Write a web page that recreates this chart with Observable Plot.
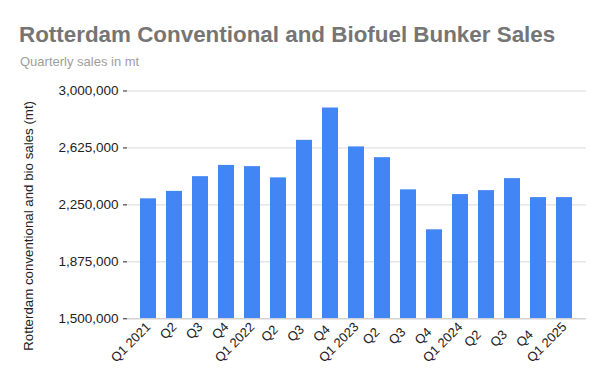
<!DOCTYPE html>
<html>
<head>
<meta charset="utf-8">
<script src="https://cdn.jsdelivr.net/npm/d3@7"></script>
<script src="https://cdn.jsdelivr.net/npm/@observablehq/plot@0.6"></script>
<style>
  html, body { margin: 0; padding: 0; background: #fff; }
  #wrap { position: relative; width: 605px; height: 387px; font-family: "Liberation Sans", Arial, sans-serif; }
  #title { position: absolute; left: 19px; top: 21px; line-height: 28px; font-size: 22.4px; font-weight: bold; color: #757575; white-space: nowrap; }
  #subtitle { position: absolute; left: 20px; top: 54px; line-height: 16px; font-size: 13px; color: #9e9e9e; white-space: nowrap; }
  #chart { position: absolute; left: 0; top: 75px; }
</style>
</head>
<body>
<div id="wrap">
  <div id="title">Rotterdam Conventional and Biofuel Bunker Sales</div>
  <div id="subtitle">Quarterly sales in mt</div>
  <div id="chart"></div>
</div>
<script>
const quarters = ["Q1 2021","Q2","Q3","Q4","Q1 2022","Q2 ","Q3 ","Q4 ","Q1 2023","Q2  ","Q3  ","Q4  ","Q1 2024","Q2   ","Q3   ","Q4   ","Q1 2025"];
const sales = [2290000, 2339000, 2436000, 2510000, 2502000, 2428000, 2675000, 2888000, 2632000, 2561000, 2349000, 2086000, 2318000, 2344000, 2423000, 2298000, 2298000];
const yTicks = [1500000, 1875000, 2250000, 2625000, 3000000];
const yLabel = "Rotterdam conventional and bio sales (mt)";

const data = quarters.map((q, i) => ({q, v: sales[i]}));

const chart = Plot.plot({
  width: 605,
  height: 312,
  marginTop: 15.5,
  marginBottom: 68.7,
  marginLeft: 127,
  marginRight: 19,
  style: {fontFamily: '"Liberation Sans", Arial, sans-serif', fontSize: "13px", color: "#222", overflow: "visible"},
  x: {domain: quarters, padding: 0.37, label: null},
  y: {domain: [1500000, 3000000], label: null},
  marks: [
    Plot.gridY(yTicks, {stroke: "#d9d9d9", strokeOpacity: 1}),
    Plot.barY(data, {x: "q", y1: 1500000, y2: "v", fill: "#4285f4", clip: true}),
    Plot.ruleY([1500000], {stroke: "#cccccc"}),
    Plot.ruleX([0], {frameAnchor: "left", stroke: "#333", strokeWidth: 1}),
    Plot.axisY({ticks: yTicks, tickFormat: d3.format(","), tickSize: 4, tickPadding: 5, label: null, fontSize: 13.5}),
    Plot.axisX({tickRotate: -45, tickSize: 0, tickPadding: 6, label: null, fontSize: 13}),
    Plot.text([yLabel], {frameAnchor: "left", textAnchor: "middle", rotate: -90, dx: -99, dy: 21, fontSize: 13.3, fill: "#222"})
  ]
});
document.getElementById("chart").appendChild(chart);
</script>
</body>
</html>
